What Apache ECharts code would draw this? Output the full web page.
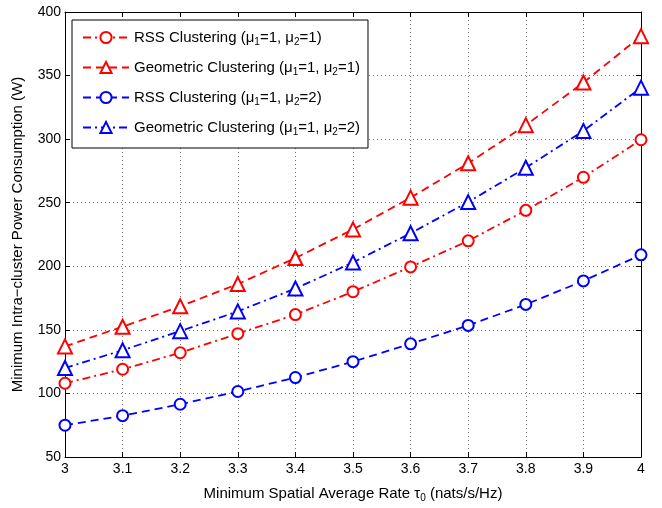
<!DOCTYPE html>
<html>
<head>
<meta charset="UTF-8">
<title>Power consumption</title>
<script src="https://cdn.jsdelivr.net/npm/echarts@6/dist/echarts.min.js"></script>
<style>
html, body { margin: 0; padding: 0; background: #fff; }
#chart { width: 662px; height: 508px; }
</style>
</head>
<body>
<div id="chart"></div>
<script>
// data
var rates = [3, 3.1, 3.2, 3.3, 3.4, 3.5, 3.6, 3.7, 3.8, 3.9, 4];
var rss11 = [108, 119, 132, 147, 162, 180, 199.5, 220, 244, 270, 299.5];
var geo11 = [137, 152.5, 168.5, 186, 206.5, 229, 254, 281, 311, 344.5, 381];
var rss12 = [75, 82.5, 91.5, 101.5, 112.5, 125, 139, 153.5, 170, 188.5, 209];
var geo12 = [120, 134, 149, 164.5, 182.5, 203, 226, 250.5, 277.5, 306.5, 340.5];
var seriesNames = [
    'RSS Clustering (μ{s|1}=1, μ{s|2}=1)',
    'Geometric Clustering (μ{s|1}=1, μ{s|2}=1)',
    'RSS Clustering (μ{s|1}=1, μ{s|2}=2)',
    'Geometric Clustering (μ{s|1}=1, μ{s|2}=2)'
];

function pairs(ys) {
    return rates.map(function (x, i) { return [x, ys[i]]; });
}

var font = 'Liberation Sans, Arial, sans-serif';
var dashDot = [8, 4, 2, 4];
var dashed = [8, 5];

function mk(name, ys, color, sym, size, dash) {
    return {
        name: name, type: 'line', data: pairs(ys),
        symbol: sym, symbolSize: size,
        lineStyle: { color: color, width: 1.8, type: dash },
        itemStyle: { color: color, borderColor: color, borderWidth: 1.8 },
        emphasis: { disabled: true },
        animation: false
    };
}

var myChart = echarts.init(document.getElementById('chart'));

var gridLine = { show: true, lineStyle: { color: '#777', type: [1, 3], width: 1 } };

var option = {
    backgroundColor: '#fff',
    textStyle: { fontFamily: font },
    grid: { left: 65, right: 21, top: 12, bottom: 51 },
    legend: {
        orient: 'vertical', left: 72, top: 20,
        backgroundColor: '#fff', borderColor: '#000', borderWidth: 1,
        padding: [10, 8, 11, 10],
        itemGap: 13, itemWidth: 46, itemHeight: 14,
        data: seriesNames,
        formatter: function (n) { return n; },
        textStyle: {
            fontSize: 15, color: '#000', fontFamily: font,
            rich: { s: { fontSize: 10, verticalAlign: 'bottom', padding: [9, 0, 0, 0], fontFamily: font } }
        }
    },
    xAxis: [{
        type: 'value', min: 3, max: 4, interval: 0.1,
        name: 'Minimum Spatial Average Rate τ{s|0} (nats/s/Hz)',
        nameLocation: 'middle', nameGap: 27,
        nameTextStyle: { fontSize: 15, color: '#000', fontFamily: font,
            rich: { s: { fontSize: 10, padding: [9, 0, 0, 0], fontFamily: font } } },
        axisLine: { lineStyle: { color: '#000', width: 1 } },
        axisTick: { inside: true, length: 5, lineStyle: { color: '#000' } },
        axisLabel: { color: '#000', fontSize: 14, margin: 5,
            formatter: function (v) { return String(+v.toFixed(1)); } },
        splitLine: gridLine
    }, {
        type: 'value', min: 3, max: 4, interval: 0.1, position: 'top',
        axisLine: { show: true, lineStyle: { color: '#000', width: 1 } },
        axisTick: { inside: true, length: 5, lineStyle: { color: '#000' } },
        axisLabel: { show: false }, splitLine: { show: false }
    }],
    yAxis: [{
        type: 'value', min: 50, max: 400, interval: 50,
        name: 'Minimum Intra−cluster Power Consumption (W)',
        nameLocation: 'middle', nameGap: 40,
        nameTextStyle: { fontSize: 15, color: '#000', fontFamily: font },
        axisLine: { show: true, lineStyle: { color: '#000', width: 1 } },
        axisTick: { show: true, inside: true, length: 5, lineStyle: { color: '#000' } },
        axisLabel: { color: '#000', fontSize: 14, margin: 4 },
        splitLine: gridLine
    }, {
        type: 'value', min: 50, max: 400, interval: 50, position: 'right',
        axisLine: { show: true, lineStyle: { color: '#000', width: 1 } },
        axisTick: { show: true, inside: true, length: 5, lineStyle: { color: '#000' } },
        axisLabel: { show: false }, splitLine: { show: false }
    }],
    series: [
        mk(seriesNames[0], rss11, '#ff0000', 'emptyCircle', 11, dashDot),
        mk(seriesNames[1], geo11, '#ff0000', 'emptyTriangle', 14, dashed),
        mk(seriesNames[2], rss12, '#0000ff', 'emptyCircle', 11, dashed),
        mk(seriesNames[3], geo12, '#0000ff', 'emptyTriangle', 14, dashDot)
    ]
};

myChart.setOption(option);
</script>
</body>
</html>
